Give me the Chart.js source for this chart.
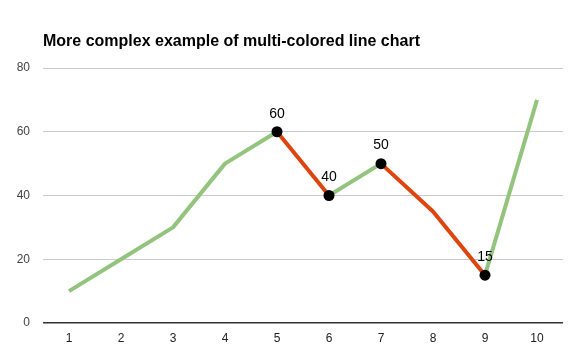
<!DOCTYPE html>
<html lang="en">
<head>
    <meta charset="UTF-8">
    <title>Multi-colored line chart</title>
    <script src="https://cdn.jsdelivr.net/npm/chart.js"></script>
    <style>
        body { margin: 0; background: #fff; }
        #wrap { width: 588px; height: 362px; }
    </style>
</head>
<body>
    <div id="wrap"><canvas id="lineChart" width="588" height="362"></canvas></div>

    <script>
        // Data
        const categories = ['1', '2', '3', '4', '5', '6', '7', '8', '9', '10'];
        const values = [10, 20, 30, 50, 60, 40, 50, 35, 15, 70];
        // colour of the segment that starts at each point
        const segmentColors = ['green', 'green', 'green', 'green', 'red', 'green', 'red', 'red', 'green'];
        const pointLabels = [null, null, null, null, '60', '40', '50', null, '15', null];
        const yTicks = [0, 20, 40, 60, 80];

        const GREEN = '#93c47d';
        const RED = '#e0440e';

        // Title drawn over the chart area's left edge
        const titlePlugin = {
            id: 'leftTitle',
            afterDraw(chart) {
                const { ctx, chartArea } = chart;
                ctx.save();
                ctx.font = 'bold 16px "Liberation Sans", Arial, sans-serif';
                ctx.fillStyle = '#000';
                ctx.textBaseline = 'middle';
                ctx.fillText('More complex example of multi-colored line chart', chartArea.left, chartArea.top - 26);
                ctx.restore();
            }
        };

        // Value annotations above highlighted points
        const labelPlugin = {
            id: 'pointLabels',
            afterDatasetsDraw(chart) {
                const { ctx } = chart;
                const meta = chart.getDatasetMeta(0);
                ctx.save();
                ctx.font = '14px "Liberation Sans", Arial, sans-serif';
                ctx.fillStyle = '#000';
                ctx.textAlign = 'center';
                ctx.textBaseline = 'middle';
                meta.data.forEach((pt, i) => {
                    if (pointLabels[i]) ctx.fillText(pointLabels[i], pt.x, pt.y - 18);
                });
                ctx.restore();
            }
        };

        const ctx = document.getElementById('lineChart').getContext('2d');
        new Chart(ctx, {
            type: 'line',
            data: {
                labels: categories,
                datasets: [{
                    data: values,
                    borderWidth: 4,
                    borderColor: GREEN,
                    tension: 0,
                    borderCapStyle: 'butt',
                    borderJoinStyle: 'round',
                    segment: {
                        borderColor: c => segmentColors[c.p0DataIndex] === 'red' ? RED : GREEN
                    },
                    pointRadius: pointLabels.map(l => l ? 5.5 : 0),
                    pointHoverRadius: 0,
                    pointBackgroundColor: '#000',
                    pointBorderColor: '#000',
                    pointBorderWidth: 0
                }]
            },
            options: {
                responsive: false,
                animation: false,
                layout: { padding: { top: 68, right: 25, left: 0, bottom: 0 } },
                plugins: {
                    legend: { display: false },
                    tooltip: { enabled: false },
                    title: { display: false }
                },
                scales: {
                    x: {
                        offset: true,
                        grid: { display: false },
                        border: { display: false },
                        ticks: {
                            color: '#222',
                            font: { family: '"Liberation Sans", Arial, sans-serif', size: 12 },
                            padding: 0,
                            maxRotation: 0
                        },
                        afterFit: s => { s.height = 39; }
                    },
                    y: {
                        min: yTicks[0],
                        max: yTicks[yTicks.length - 1],
                        afterBuildTicks: s => { s.ticks = yTicks.map(v => ({ value: v })); },
                        grid: {
                            drawTicks: false,
                            color: c => c.tick && c.tick.value === 0 ? '#333' : '#ccc',
                            lineWidth: c => c.tick && c.tick.value === 0 ? 1.5 : 1
                        },
                        border: { display: false },
                        ticks: {
                            color: '#444',
                            font: { family: '"Liberation Sans", Arial, sans-serif', size: 12 },
                            padding: 13
                        },
                        afterFit: s => { s.width = 43; }
                    }
                }
            },
            plugins: [titlePlugin, labelPlugin]
        });
    </script>
</body>
</html>
